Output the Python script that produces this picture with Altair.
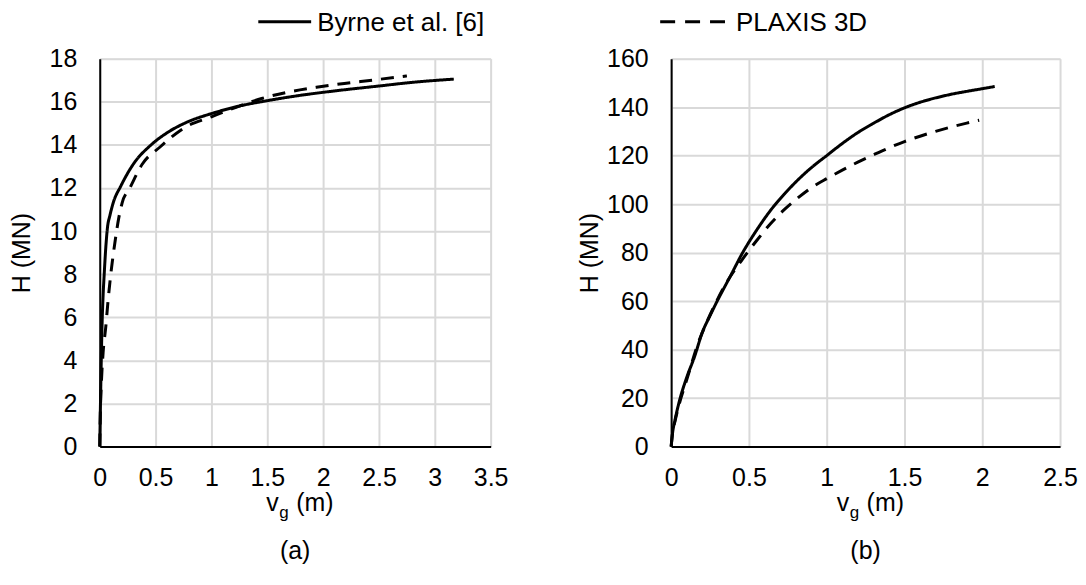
import altair as alt
import pandas as pd

FONT = "Liberation Sans"
BYRNE = "Byrne et al. [6]"
PLAXIS = "PLAXIS 3D"

# ---- panel (a) ----
a_byrne_v = [0, 0.01, 0.02, 0.03, 0.04, 0.055, 0.07, 0.09, 0.12, 0.19, 0.3, 0.46, 0.6, 0.78, 1.0, 1.25, 1.5, 1.8, 2.1, 2.5, 2.8, 3.17]
a_byrne_H = [0, 3, 5.5, 7, 8, 9.3, 10.2, 10.7, 11.3, 12.1, 13.1, 14.0, 14.55, 15.05, 15.45, 15.8, 16.05, 16.3, 16.5, 16.73, 16.9, 17.05]
a_plaxis_v = [0, 0.005, 0.015, 0.03, 0.054, 0.075, 0.1, 0.134, 0.17, 0.2, 0.27, 0.38, 0.54, 0.76, 1.0, 1.25, 1.45, 1.67, 1.94, 2.19, 2.44, 2.75]
a_plaxis_H = [0, 1.5, 3.0, 4.35, 5.55, 6.8, 8.05, 9.4, 10.6, 11.3, 12.0, 13.1, 13.9, 14.8, 15.3, 15.8, 16.15, 16.43, 16.67, 16.85, 17.0, 17.2]
a_x_ticks = [0, 0.5, 1, 1.5, 2, 2.5, 3, 3.5]
a_y_ticks = [0, 2, 4, 6, 8, 10, 12, 14, 16, 18]

# ---- panel (b) ----
b_byrne_v = [0, 0.01, 0.025, 0.05, 0.1, 0.15, 0.2, 0.25, 0.3, 0.38, 0.46, 0.55, 0.64, 0.73, 0.82, 0.91, 1.0, 1.1, 1.2, 1.3, 1.4, 1.5, 1.6, 1.7, 1.8, 1.9, 2.0, 2.08]
b_byrne_H = [0, 6, 11, 18, 28.5, 37, 47, 54, 60.5, 70.2, 80, 89.3, 97.5, 104.3, 110.3, 115.5, 120, 125, 129.5, 133.3, 136.8, 139.7, 142, 143.8, 145.3, 146.5, 147.6, 148.5]
b_plaxis_v = [0, 0.01, 0.025, 0.05, 0.1, 0.17, 0.22, 0.27, 0.35, 0.45, 0.55, 0.64, 0.72, 0.81, 0.9, 1.0, 1.1, 1.2, 1.3, 1.4, 1.5, 1.6, 1.7, 1.8, 1.9, 1.98]
b_plaxis_H = [0, 6, 10.5, 17, 27.5, 42, 50, 57, 67, 76.5, 85, 92, 97.3, 102.3, 106.7, 110.5, 114, 117.3, 120.3, 123.2, 125.8, 128, 130, 131.8, 133.4, 134.6]
b_x_ticks = [0, 0.5, 1, 1.5, 2, 2.5]
b_y_ticks = [0, 20, 40, 60, 80, 100, 120, 140, 160]


def frame(bv, bh, pv, ph):
    rows = []
    for i, (v, h) in enumerate(zip(bv, bh)):
        rows.append({"v": v, "H": h, "s": BYRNE, "i": i})
    for i, (v, h) in enumerate(zip(pv, ph)):
        rows.append({"v": v, "H": h, "s": PLAXIS, "i": i})
    return pd.DataFrame(rows)


def panel(df, xticks, yticks, W, H, legend_name, legend_dash, lx, llen, title_x, letter):
    axis_common = dict(
        grid=True, gridColor="#d9d9d9", gridWidth=2,
        domain=True, domainColor="black", domainWidth=2,
        ticks=False, tickSize=0,
        labelFont=FONT, labelFontSize=25, labelColor="black",
        labelOverlap=False, labelFlush=False, format=".2~f",
    )
    lines = alt.Chart(df).mark_line(color="black", strokeWidth=3, interpolate="monotone").encode(
        x=alt.X("v:Q", scale=alt.Scale(domain=[xticks[0], xticks[-1]], nice=False),
                axis=alt.Axis(values=xticks, title=None, labelPadding=19, **axis_common)),
        y=alt.Y("H:Q", scale=alt.Scale(domain=[yticks[0], yticks[-1]], nice=False),
                axis=alt.Axis(values=yticks, title="H (MN)", labelPadding=23,
                              titleFont=FONT, titleFontSize=25, titleFontWeight="normal",
                              titleColor="black", titleX=title_x, titleY=H / 2,
                              titleBaseline="middle", titleAlign="center", **axis_common)),
        strokeDash=alt.StrokeDash(
            "s:N",
            scale=alt.Scale(domain=[BYRNE, PLAXIS], range=[[1, 0], [13, 9]]),
            legend=None,
        ),
        detail="s:N",
        order="i:Q",
    )
    c = W / 2
    one = pd.DataFrame({"t": ["x"]})
    # legend entry
    leg_line = alt.Chart(one).mark_rule(color="black", strokeWidth=3, strokeDash=legend_dash).encode(
        x=alt.value(lx), x2=alt.value(lx + llen), y=alt.value(-37))
    leg_txt = alt.Chart(one).mark_text(font=FONT, fontSize=26, align="left", baseline="alphabetic",
                                       color="black", text=legend_name).encode(
        x=alt.value(lx + llen + 6), y=alt.value(-28))
    # x-axis title with subscript
    v_txt = alt.Chart(one).mark_text(font=FONT, fontSize=25, align="left", baseline="alphabetic", color="black", text="v").encode(
        x=alt.value(c - 29), y=alt.value(454))
    g_txt = alt.Chart(one).mark_text(font=FONT, fontSize=17, align="left", baseline="alphabetic", color="black", text="g").encode(
        x=alt.value(c - 16), y=alt.value(461))
    m_txt = alt.Chart(one).mark_text(font=FONT, fontSize=25, align="left", baseline="alphabetic", color="black", text="(m)").encode(
        x=alt.value(c + 1), y=alt.value(454))
    l_txt = alt.Chart(one).mark_text(font=FONT, fontSize=25, align="center", baseline="middle", color="black", text=letter).encode(
        x=alt.value(c), y=alt.value(494))
    return alt.layer(lines, leg_line, leg_txt, v_txt, g_txt, m_txt, l_txt).properties(width=W, height=H)


left = panel(frame(a_byrne_v, a_byrne_H, a_plaxis_v, a_plaxis_H), a_x_ticks, a_y_ticks,
             392, 389, BYRNE, [1, 0], 159, 53, -78, "(a)")
right = panel(frame(b_byrne_v, b_byrne_H, b_plaxis_v, b_plaxis_H), b_x_ticks, b_y_ticks,
              390, 389, PLAXIS, [15, 10], -11, 70, -82, "(b)")

chart = alt.hconcat(left, right, spacing=181, bounds="flush").resolve_scale(
    x="independent", y="independent", strokeDash="shared"
).properties(
    padding={"left": 1, "top": 0, "right": 0, "bottom": 0}
).configure_view(stroke=None).configure(background="white")

chart.save("out.html", embed_options={"renderer": "svg", "actions": False})
